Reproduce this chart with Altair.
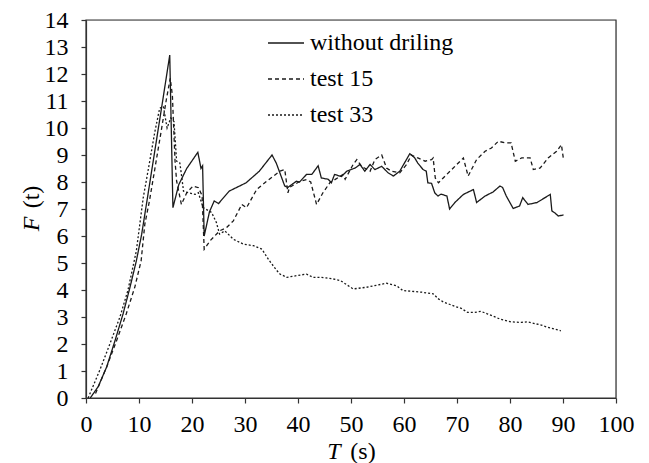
import altair as alt
import pandas as pd

series_names = ["without driling", "test 15", "test 33"]

t_without = [0.8, 2.3, 3.9, 5.5, 7.0, 8.3, 9.5, 10.5, 11.5, 12.5, 13.5, 14.5, 15.8, 16.4, 17.5, 19.0,
             21.1, 21.7, 22.0, 22.3, 23.3, 24.2, 25.0, 27.0, 30.2, 32.7, 35.1, 35.9, 37.5, 38.1, 39.7,
             40.3, 41.6, 42.6, 43.8, 44.4, 45.7, 46.3, 46.9, 48.2, 49.2, 50.8, 51.7, 52.6, 53.6, 54.5,
             55.8, 57.0, 58.0, 59.2, 61.1, 62.0, 62.6, 63.6, 64.2, 64.5, 65.2, 65.8, 66.4, 67.0, 68.1,
             68.6, 69.6, 71.2, 73.1, 73.7, 75.3, 76.8, 78.1, 78.6, 79.3, 80.6, 81.8, 82.4, 83.4, 85.1,
             87.6, 87.9, 88.5, 89.1, 90.1]
f_without = [0.0, 0.42, 1.15, 2.14, 3.12, 4.1, 5.08, 6.06, 7.3, 8.55, 9.8, 11.05, 12.7, 7.05, 7.9, 8.5,
             9.1, 8.5, 8.6, 6.0, 6.9, 7.3, 7.2, 7.66, 7.97, 8.4, 9.0, 8.7, 7.85, 7.8, 8.03,
             8.0, 8.28, 8.28, 8.6, 8.15, 8.1, 7.97, 8.28, 8.2, 8.4, 8.52, 8.65, 8.4, 8.65, 8.46,
             8.58, 8.34, 8.22, 8.4, 9.05, 8.9, 8.7, 8.46, 8.4, 7.97, 7.95, 7.6, 7.48, 7.55, 7.48,
             7.0, 7.24, 7.54, 7.72, 7.24, 7.48, 7.63, 7.85, 7.8, 7.48, 7.02, 7.11, 7.42, 7.17, 7.24,
             7.54, 6.93, 6.85, 6.74, 6.78]

t_test15 = [1.8, 3.9, 5.8, 7.6, 9.2, 10.4, 11.1, 12.0, 13.0, 14.2, 15.2, 15.9, 16.3, 16.8, 17.1, 18.0,
            19.0, 20.2, 21.2, 21.9, 22.3, 23.4, 25.2, 26.5, 27.8, 29.4, 30.3, 32.2, 34.1, 36.6, 37.5,
            38.1, 38.4, 40.4, 41.6, 42.4, 43.5, 44.7, 46.0, 48.5, 48.9, 50.4, 51.1, 52.0, 53.6, 54.5,
            55.8, 56.7, 57.6, 59.2, 60.5, 61.4, 62.6, 64.0, 65.2, 65.5, 65.9, 66.5, 67.4, 69.3, 71.2,
            72.1, 73.7, 75.3, 76.5, 77.8, 79.0, 80.2, 81.0, 82.2, 83.8, 84.4, 85.7, 87.2, 88.8, 89.7,
            90.1]
f_test15 = [0.17, 1.15, 2.14, 3.12, 4.1, 5.08, 6.44, 7.33, 8.5, 9.9, 11.1, 11.84, 11.2, 8.77, 8.03, 7.17,
            7.6, 7.85, 7.79, 7.5, 5.51, 5.82, 6.19, 6.31, 6.56, 7.17, 7.05, 7.72, 8.03, 8.4, 8.46,
            7.6, 7.8, 8.03, 8.09, 8.0, 7.17, 7.6, 7.97, 8.28, 8.1, 8.65, 8.83, 8.58, 8.4, 8.83,
            9.0, 8.52, 8.4, 8.34, 8.65, 9.0, 8.89, 8.77, 8.83, 8.89, 8.15, 7.97, 8.15, 8.52, 8.89,
            8.22, 8.83, 9.14, 9.26, 9.51, 9.45, 9.45, 8.77, 8.89, 8.89, 8.46, 8.52, 8.89, 9.14, 9.38,
            8.83]

t_test33 = [0.4, 2.6, 4.5, 6.4, 7.9, 9.5, 10.8, 11.8, 13.0, 13.9, 14.6, 15.3, 16.0, 16.6, 17.1, 17.7,
            18.0, 18.4, 19.3, 20.6, 21.2, 22.1, 23.7, 24.6, 25.2, 26.2, 27.8, 29.7, 31.6, 33.2, 34.4,
            36.0, 36.6, 37.9, 39.7, 41.6, 42.8, 44.2, 45.3, 46.6, 48.0, 50.4, 52.9, 56.7, 58.6, 59.8,
            63.3, 65.5, 66.5, 67.4, 69.5, 70.8, 72.0, 73.3, 74.5, 75.8, 78.3, 80.2, 82.1, 83.3, 85.9,
            87.1, 89.6]
f_test33 = [0.0, 1.03, 2.0, 3.0, 3.98, 5.45, 7.42, 8.52, 9.87, 10.73, 10.8, 10.0, 10.37, 10.24, 8.77, 8.71,
            8.28, 7.66, 7.6, 7.54, 7.6, 7.05, 6.87, 6.5, 6.07, 6.19, 5.88, 5.7, 5.64, 5.51, 5.14,
            4.72, 4.59, 4.47, 4.53, 4.59, 4.47, 4.47, 4.45, 4.41, 4.35, 4.04, 4.1, 4.25, 4.16, 3.98,
            3.92, 3.86, 3.67, 3.56, 3.4, 3.32, 3.17, 3.17, 3.21, 3.11, 2.91, 2.82, 2.8, 2.82, 2.7,
            2.62, 2.49]

x_ticks = list(range(0, 101, 10))
y_ticks = list(range(0, 15, 1))

rows = []
for name, ts, fs in zip(series_names, [t_without, t_test15, t_test33], [f_without, f_test15, f_test33]):
    assert len(ts) == len(fs), name
    for t, f in zip(ts, fs):
        rows.append({"series": name, "T": t, "F": f})
df = pd.DataFrame(rows)

SERIF = "Liberation Serif"
FS = 24
W, H = 530, 378

axis_style = dict(title=None, labelFlush=False, labelFont=SERIF, labelFontSize=FS,
                  labelColor="black", grid=False, domainColor="#333", domainWidth=1.2,
                  tickColor="#333", tickSize=5, tickWidth=1.2)

lines = alt.Chart(df).mark_line(strokeWidth=1.3, color="#1a1a1a").encode(
    x=alt.X("T:Q", scale=alt.Scale(domain=[0, 100], nice=False),
            axis=alt.Axis(values=x_ticks, labelPadding=9, **axis_style)),
    y=alt.Y("F:Q", scale=alt.Scale(domain=[0, 14], nice=False),
            axis=alt.Axis(values=y_ticks, labelPadding=13, **axis_style)),
    strokeDash=alt.StrokeDash(
        "series:N",
        scale=alt.Scale(domain=series_names, range=[[1, 0], [4, 3], [2, 2]]),
        legend=alt.Legend(
            title=None, orient="none", legendX=181, legendY=4,
            symbolType="stroke", symbolSize=1296, symbolStrokeWidth=1.3,
            symbolStrokeColor="#1a1a1a",
            labelFont=SERIF, labelFontSize=FS, labelColor="black",
            labelOffset=5, rowPadding=5, padding=0,
        ),
    ),
    detail="series:N",
)

one = pd.DataFrame({"k": [0]})
frame = alt.Chart(one).mark_rect(fill="transparent", stroke="#333", strokeWidth=1.2).encode(
    x=alt.value(0), x2=alt.value(W), y=alt.value(0), y2=alt.value(H))
t_title = alt.Chart(one).mark_text(text="T", font=SERIF, fontSize=FS, fontStyle="italic",
                                   align="center", color="black").encode(
    x=alt.value(248), y=alt.value(432))
s_title = alt.Chart(one).mark_text(text="(s)", font=SERIF, fontSize=FS,
                                   align="center", color="black").encode(
    x=alt.value(277), y=alt.value(432))
f_title = alt.Chart(one).mark_text(text="F", font=SERIF, fontSize=FS, fontStyle="italic", angle=270,
                                   align="center", color="black").encode(
    x=alt.value(-54), y=alt.value(204))
tt_title = alt.Chart(one).mark_text(text="(t)", font=SERIF, fontSize=FS, angle=270,
                                    align="center", color="black").encode(
    x=alt.value(-54), y=alt.value(177))

chart = alt.layer(frame, lines, t_title, s_title, f_title, tt_title).properties(
    width=W, height=H,
    autosize=alt.AutoSizeParams(type="none"),
    padding={"left": 78, "top": 12, "right": 25, "bottom": 70},
)

chart.save("out.html", embed_options={"renderer": "svg", "actions": False})
